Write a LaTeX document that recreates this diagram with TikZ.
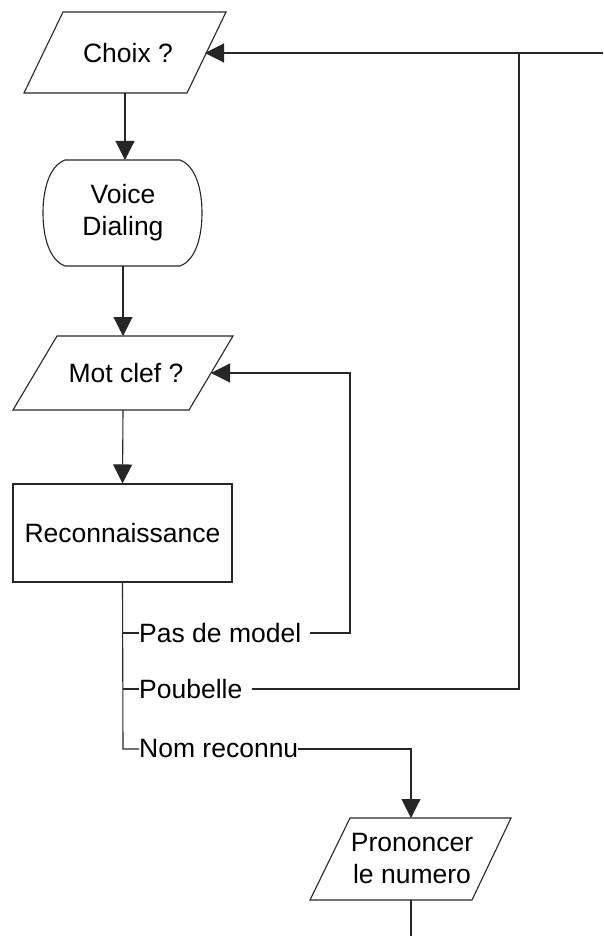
\documentclass[tikz,border=0pt]{standalone}
\usepackage{fontspec}
\setmainfont{Liberation Sans}
\usetikzlibrary{arrows.meta}
\begin{document}
\begin{tikzpicture}[x=1pt,y=-1pt,
  ln/.style={line width=1.1pt,draw=black!85},
  arr/.style={ln,-{Triangle[length=19pt,width=19pt]}},
  txt/.style={font=\fontsize{26.5}{32}\selectfont,inner sep=0pt,align=center},
  lbl/.style={font=\fontsize{26.5}{32}\selectfont,inner sep=0pt,anchor=west}]
\useasboundingbox (0,0) rectangle (603,936);
% shapes
\draw[ln] (63,12) -- (226,12) -- (187,93) -- (24,93) -- cycle;
\node[txt] (choix) at (128,53) {Choix ?};
\draw[ln] (65,160) -- (180,160) .. controls (196,166) and (202,190) .. (202,213)
  .. controls (202,236) and (196,260) .. (180,266) -- (65,266)
  .. controls (49,260) and (43,236) .. (43,213)
  .. controls (43,190) and (49,166) .. (65,160) -- cycle;
\node[txt] (voice) at (123,213) {Voice\\Dialing};
\draw[ln] (57,336) -- (233,336) -- (189,410) -- (13,410) -- cycle;
\node[txt] (mot) at (126,373) {Mot clef ?};
\node[ln,draw,minimum width=219pt,minimum height=98pt,txt] (rec) at (122.5,533) {Reconnaissance};
\draw[ln] (350,818) -- (511,818) -- (472,900) -- (310,900) -- cycle;
\node[txt] (pron) at (412,859) {Prononcer\\le numero};
% coordinates
\coordinate (choixB) at (125,93);
\coordinate (choixR) at (205,53);
\coordinate (voiceT) at (125,160);
\coordinate (voiceB) at (123,266);
\coordinate (motT) at (123,336);
\coordinate (motB) at (123,410);
\coordinate (motR) at (211,373);
\coordinate (t1) at (123,633);
\coordinate (t2) at (123,689);
\coordinate (t3) at (123,749);
\coordinate (pronT) at (411,818);
\coordinate (pronB) at (411,900);
\coordinate (rightE) at (603,53);
\coordinate (bottomE) at (411,936);
% labels
\node[lbl] (pas) at (139,633) {Pas de model};
\node[lbl] (pou) at (139,689) {Poubelle};
\node[lbl] (nom) at (139,749) {Nom reconnu};
% connectors
\draw[arr] (choixB) -- (voiceT);
\draw[arr] (voiceB) -- (motT);
\draw[arr] (motB) -- (rec.north);
\draw[ln] (rec.south) -- (t3) -- (nom.west);
\draw[ln] (t1) -- (pas.west);
\draw[ln] (t2) -- (pou.west);
\draw[arr] ([xshift=9pt]pas.east) -| (350,373) -- (motR);
\draw[ln] ([xshift=9pt]pou.east) -| (519,53);
\draw[arr] (rightE) -- (choixR);
\draw[arr] (nom.east) -| (pronT);
\draw[ln] (pronB) -- (bottomE);
\end{tikzpicture}
\end{document}
